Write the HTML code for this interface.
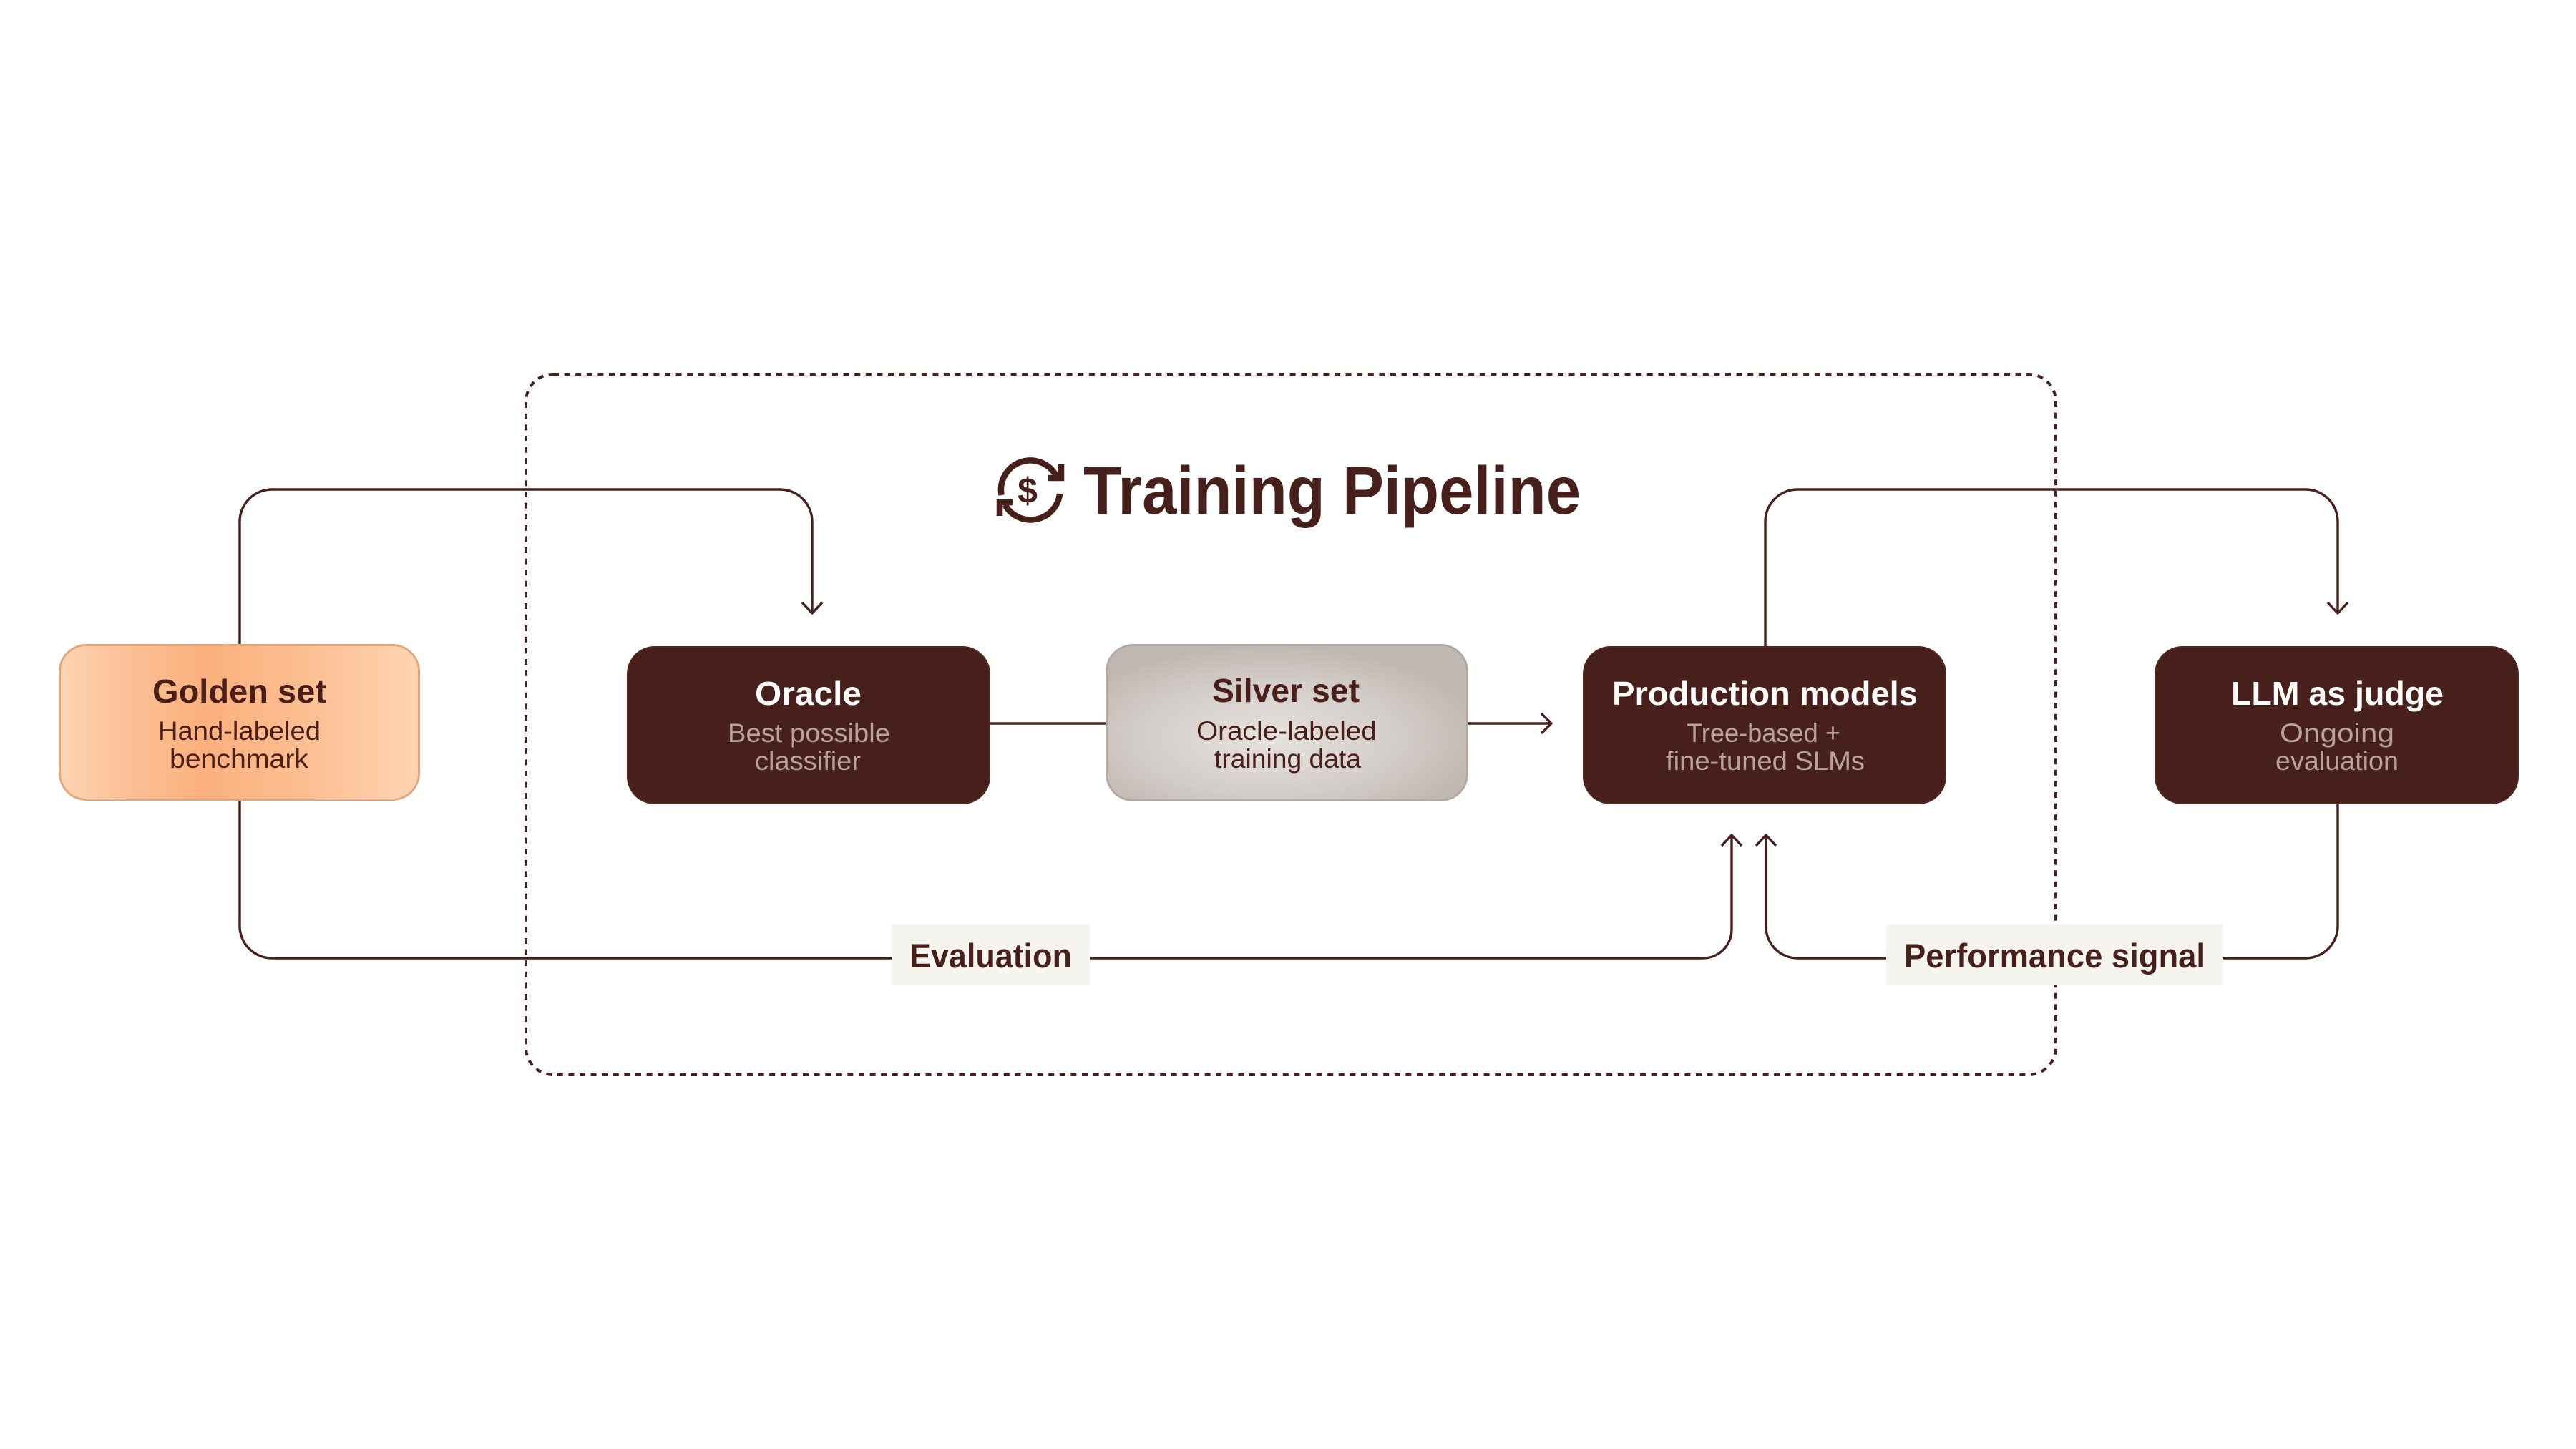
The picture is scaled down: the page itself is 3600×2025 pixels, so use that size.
<!DOCTYPE html>
<html>
<head>
<meta charset="utf-8">
<style>
  html, body { margin:0; padding:0; background:#ffffff; }
  body { width:3600px; height:2025px; overflow:hidden; }
  svg { display:block; }
  text { font-family: "Liberation Sans", Arial, sans-serif; }
</style>
</head>
<body>
<svg width="3600" height="2025" viewBox="0 0 3600 2025" xmlns="http://www.w3.org/2000/svg">
  <defs>
    <linearGradient id="gold" x1="0" y1="0" x2="1" y2="0">
      <stop offset="0" stop-color="#fdd4b3"/>
      <stop offset="0.14" stop-color="#fcc49c"/>
      <stop offset="0.40" stop-color="#fbb07d"/>
      <stop offset="0.65" stop-color="#fcbc8e"/>
      <stop offset="1" stop-color="#fed4b2"/>
    </linearGradient>
    <radialGradient id="silver" cx="0.45" cy="0.6" r="0.6">
      <stop offset="0" stop-color="#e6e2de"/>
      <stop offset="0.6" stop-color="#d3cdc9"/>
      <stop offset="1" stop-color="#bfb7b2"/>
    </radialGradient>
  </defs>

  <rect x="0" y="0" width="3600" height="2025" fill="#ffffff"/>

  <!-- dashed container -->
  <rect x="735" y="523" width="2138" height="979" rx="38" ry="38" fill="none" stroke="#47201c" stroke-width="4" stroke-dasharray="8 7.6"/>

  <!-- connectors -->
  <g fill="none" stroke="#47201c" stroke-width="3.4" stroke-linecap="butt" stroke-linejoin="round">
    <path d="M335,900 V729 A45,45 0 0 1 380,684 H1090 A45,45 0 0 1 1135,729 V856"/>
    <polyline points="1121,842 1135,857 1149,842"/>
    <path d="M1383,1011 H1545"/>
    <path d="M2052,1011 H2167"/>
    <polyline points="2154,997 2168,1011 2154,1025"/>
    <path d="M2467,904 V729 A45,45 0 0 1 2512,684 H3222 A45,45 0 0 1 3267,729 V856"/>
    <polyline points="3253,842 3267,857 3281,842"/>
    <path d="M335,1119 V1294 A45,45 0 0 0 380,1339 H2380 A40,40 0 0 0 2420,1299 V1168"/>
    <polyline points="2406,1182 2420,1167 2434,1182"/>
    <path d="M3267,1123 V1294 A45,45 0 0 1 3222,1339 H2512 A44,44 0 0 1 2468,1295 V1168"/>
    <polyline points="2454,1182 2468,1167 2482,1182"/>
  </g>

  <!-- boxes -->
  <rect x="83.5" y="901.5" width="502" height="216" rx="37" ry="37" fill="url(#gold)" stroke="#e2a77d" stroke-width="3"/>
  <rect x="877" y="904" width="506" height="219" rx="38" ry="38" fill="#47201c" stroke="#55281f" stroke-width="2"/>
  <rect x="1546.5" y="901.5" width="504" height="217" rx="37" ry="37" fill="url(#silver)" stroke="#b3a9a2" stroke-width="3"/>
  <rect x="2213" y="904" width="506" height="219" rx="38" ry="38" fill="#47201c" stroke="#55281f" stroke-width="2"/>
  <rect x="3012" y="904" width="507" height="219" rx="38" ry="38" fill="#47201c" stroke="#55281f" stroke-width="2"/>

  <!-- box texts -->
  <g font-weight="700" font-size="46">
    <text x="213" y="982" fill="#4a1f1a" textLength="243" lengthAdjust="spacingAndGlyphs">Golden set</text>
    <text x="1055" y="985" fill="#fffdfb" textLength="149" lengthAdjust="spacingAndGlyphs">Oracle</text>
    <text x="1694" y="981" fill="#4a1f1a" textLength="206" lengthAdjust="spacingAndGlyphs">Silver set</text>
    <text x="2253" y="985" fill="#fffdfb" textLength="427" lengthAdjust="spacingAndGlyphs">Production models</text>
    <text x="3118" y="985" fill="#fffdfb" textLength="297" lengthAdjust="spacingAndGlyphs">LLM as judge</text>
  </g>
  <g font-weight="400" font-size="37">
    <text x="221" y="1034" fill="#4a1f1a" textLength="227" lengthAdjust="spacingAndGlyphs">Hand-labeled</text>
    <text x="237" y="1073" fill="#4a1f1a" textLength="194" lengthAdjust="spacingAndGlyphs">benchmark</text>
    <text x="1017" y="1037" fill="#b8a29e" textLength="227" lengthAdjust="spacingAndGlyphs">Best possible</text>
    <text x="1055" y="1076" fill="#b8a29e" textLength="148" lengthAdjust="spacingAndGlyphs">classifier</text>
    <text x="1672" y="1034" fill="#4a1f1a" textLength="252" lengthAdjust="spacingAndGlyphs">Oracle-labeled</text>
    <text x="1697" y="1073" fill="#4a1f1a" textLength="205" lengthAdjust="spacingAndGlyphs">training data</text>
    <text x="2357" y="1037" fill="#b8a29e" textLength="215" lengthAdjust="spacingAndGlyphs">Tree-based +</text>
    <text x="2328" y="1076" fill="#b8a29e" textLength="278" lengthAdjust="spacingAndGlyphs">fine-tuned SLMs</text>
    <text x="3186" y="1037" fill="#b8a29e" textLength="160" lengthAdjust="spacingAndGlyphs">Ongoing</text>
    <text x="3180" y="1076" fill="#b8a29e" textLength="172" lengthAdjust="spacingAndGlyphs">evaluation</text>
  </g>

  <!-- connector labels -->
  <rect x="1246" y="1292" width="277" height="84" fill="#f6f4ef"/>
  <text x="1271" y="1352" font-size="47" font-weight="700" fill="#47201c" textLength="227" lengthAdjust="spacingAndGlyphs">Evaluation</text>
  <rect x="2636" y="1292" width="470" height="84" fill="#f6f4ef"/>
  <text x="2661" y="1352" font-size="47" font-weight="700" fill="#47201c" textLength="421" lengthAdjust="spacingAndGlyphs">Performance signal</text>

  <!-- title icon -->
  <g fill="none" stroke="#47201c" stroke-width="8.5" stroke-linecap="butt" stroke-linejoin="miter">
    <path d="M1399.6,692 A41,41 0 0 1 1477,667"/>
    <polyline points="1483,649 1483,668 1465,668"/>
    <path d="M1481,690 A41,41 0 0 1 1404.5,705.5"/>
    <polyline points="1397,721 1397,702 1415,702"/>
  </g>
  <text x="1436" y="703" text-anchor="middle" font-size="50" font-weight="700" fill="#47201c">$</text>

  <!-- title -->
  <text x="1514" y="718" font-size="95" font-weight="700" fill="#47201c" textLength="695" lengthAdjust="spacingAndGlyphs">Training Pipeline</text>
</svg>
</body>
</html>
